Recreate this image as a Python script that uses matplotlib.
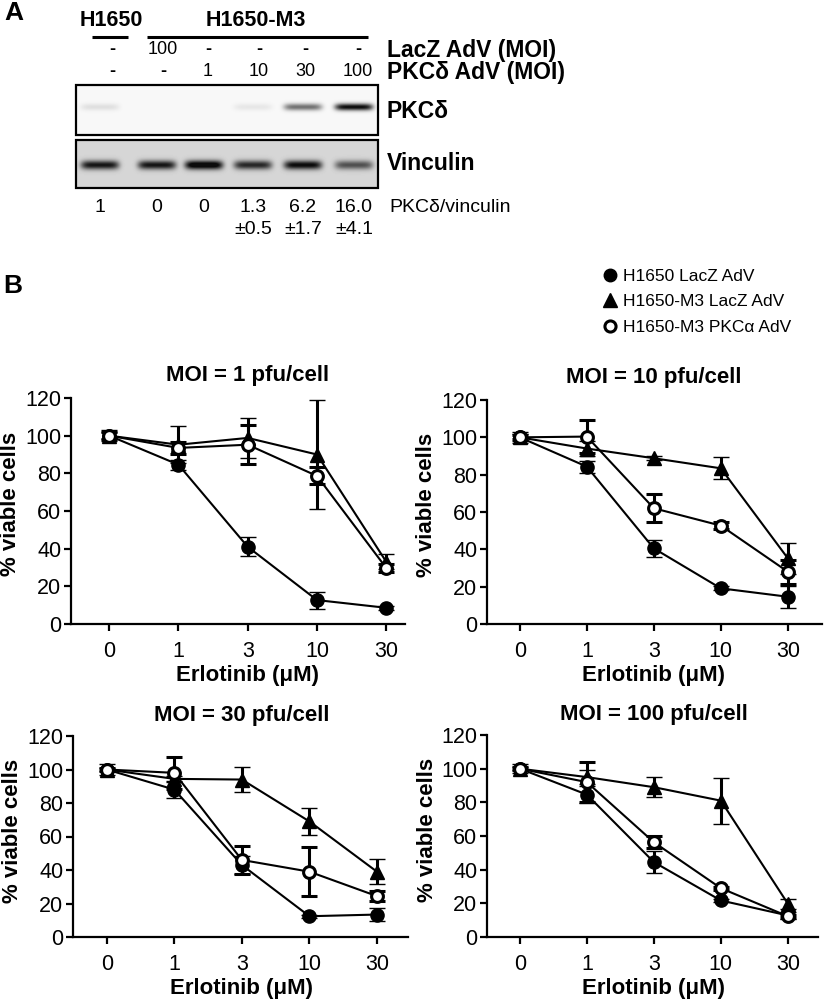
import numpy as np
import matplotlib
matplotlib.use('Agg')
import matplotlib.pyplot as plt
from matplotlib.patches import Rectangle
from matplotlib.lines import Line2D
from matplotlib.transforms import blended_transform_factory

plt.rcParams['font.family'] = ['Liberation Sans', 'DejaVu Sans']

#==============================================================================
# Data
#==============================================================================

# Panel A - western blot
lacz_moi = ['-', '100', '-', '-', '-', '-']
pkc_moi = ['-', '-', '1', '10', '30', '100']
ratio = ['1', '0', '0', '1.3', '6.2', '16.0']
ratio_sd = ['', '', '', '±0.5', '±1.7', '±4.1']
pkc_band = [0.10, 0.0, 0.0, 0.07, 0.55, 0.97]   # band darkness per lane
vinc_band = [0.80, 0.80, 0.98, 0.72, 0.85, 0.55]

# Panel B - viability curves
doses = ['0', '1', '3', '10', '30']
series_names = ['H1650 LacZ AdV', 'H1650-M3 LacZ AdV', 'H1650-M3 PKCα AdV']

moi1_h1650 = [100, 84.6, 41, 12.7, 8.6]
moi1_h1650_err = [2, 2.7, 5, 4.5, 1]
moi1_m3lacz = [100, 95.2, 98.8, 90, 33]
moi1_m3lacz_err = [3, 9.8, 10.6, 29, 4]
moi1_m3pkc = [100, 93.5, 95.2, 78.6, 29.7]
moi1_m3pkc_err = [2, 3, 10.5, 4.5, 2]

moi10_h1650 = [100, 84.3, 40.5, 19.1, 14.6]
moi10_h1650_err = [2, 3.2, 4.5, 1, 5.8]
moi10_m3lacz = [100, 94, 88.8, 83.4, 35.2]
moi10_m3lacz_err = [3, 4, 1, 5.8, 8.4]
moi10_m3pkc = [100, 100.4, 62, 52.7, 28]
moi10_m3pkc_err = [1, 9, 7.4, 2, 6.5]

moi30_h1650 = [100, 88, 43, 12.4, 13.4]
moi30_h1650_err = [1, 5, 5.5, 1, 4]
moi30_m3lacz = [100, 94.4, 94, 69, 39]
moi30_m3lacz_err = [3, 2, 7.5, 8, 7.5]
moi30_m3pkc = [100, 98, 46, 39, 24.4]
moi30_m3pkc_err = [1, 9.6, 8.5, 14.5, 3]

moi100_h1650 = [100, 84.6, 44.5, 21.7, 12.8]
moi100_h1650_err = [1, 5, 6.4, 1, 2]
moi100_m3lacz = [100, 95, 89, 81, 19.8]
moi100_m3lacz_err = [2.5, 4, 6, 13.6, 3]
moi100_m3pkc = [100, 92, 56.3, 29, 12.3]
moi100_m3pkc_err = [1, 12, 3.5, 1, 1]

W, H = 825, 1001
fig = plt.figure(figsize=(W / 100, H / 100), dpi=100)

#==============================================================================
# Panel A (drawn in pixel coordinates)
#==============================================================================
axA = fig.add_axes([0, 0, 1, 1], zorder=0)
axA.set_xlim(0, W)
axA.set_ylim(H, 0)
axA.axis('off')

row_x = [112, 163, 208, 259, 305, 358]   # lane label positions
lane_x = [100, 157, 204, 253, 303, 354]  # band / ratio positions

axA.text(4, 13, 'A', fontsize=19, fontweight='bold', ha='left', va='center')
axA.text(3, 286, 'B', fontsize=19, fontweight='bold', ha='left', va='center')

axA.text(111, 21, 'H1650', fontsize=15.5, fontweight='bold', ha='center', va='center')
axA.text(256, 21, 'H1650-M3', fontsize=15.5, fontweight='bold', ha='center', va='center')
axA.plot([92, 128], [37, 37], color='k', lw=2.2, solid_capstyle='butt')
axA.plot([147, 368], [37, 37], color='k', lw=2.2, solid_capstyle='butt')

for x, s in zip(row_x, lacz_moi):
    axA.text(x, 50, s, fontsize=13, ha='center', va='center',
             fontweight='bold' if s == '-' else 'normal')
for x, s in zip(row_x, pkc_moi):
    axA.text(x, 72, s, fontsize=13, ha='center', va='center',
             fontweight='bold' if s == '-' else 'normal')
axA.text(387, 50, 'LacZ AdV (MOI)', fontsize=16.5, fontweight='bold', ha='left', va='center')
axA.text(387, 72, 'PKCδ AdV (MOI)', fontsize=16.5, fontweight='bold', ha='left', va='center')


def blot(top, bottom, strengths, bg, band_y, band_h):
    xs = np.arange(76, 378) + 0.5
    ys = np.arange(top, bottom) + 0.5
    X, Y = np.meshgrid(xs, ys)
    img = np.full(X.shape, bg)
    for xc, s in zip(lane_x, strengths):
        img += s * np.exp(-((X - xc) / 19.0) ** 6) * np.exp(-((Y - band_y) / band_h) ** 2)
    img = np.clip(img, 0, 1)
    axA.imshow(img, cmap='gray_r', vmin=0, vmax=1.05, extent=(76, 378, bottom, top),
               aspect='auto', interpolation='bilinear')
    axA.add_patch(Rectangle((76, top), 302, bottom - top, fill=False, ec='k', lw=1.6))


blot(85, 135, pkc_band, 0.03, 107, 3.5)
blot(140, 188, vinc_band, 0.17, 165, 4.5)
axA.set_xlim(0, W)
axA.set_ylim(H, 0)

axA.text(387, 111, 'PKCδ', fontsize=16.5, fontweight='bold', ha='left', va='center')
axA.text(387, 163, 'Vinculin', fontsize=16.5, fontweight='bold', ha='left', va='center')

for x, s in zip(lane_x, ratio):
    axA.text(x, 208, s, fontsize=14, ha='center', va='center')
for x, s in zip(lane_x, ratio_sd):
    axA.text(x, 230, s, fontsize=14, ha='center', va='center')
axA.text(389, 208, 'PKCδ/vinculin', fontsize=14, ha='left', va='center')

#==============================================================================
# Panel B
#==============================================================================


def px_axes(left, top, right, bottom):
    return fig.add_axes([left / W, 1 - bottom / H, (right - left) / W, (bottom - top) / H], zorder=2)


marker_styles = [
    dict(marker='o', ms=9.5, mfc='k', mec='k', mew=1),
    dict(marker='^', ms=10, mfc='k', mec='k', mew=1),
    dict(marker='o', ms=8.5, mfc='white', mec='k', mew=2.2),
]


def plot_panel(ax, title, data, xlim, height_px):
    x = np.arange(len(doses))
    for (y, err), st in zip(data, marker_styles):
        ax.errorbar(x, y, yerr=err, color='k', lw=1.5, elinewidth=2.2, capsize=6,
                    capthick=2.2, clip_on=False, zorder=3, **st)
    ax.set_xlim(*xlim)
    ax.set_ylim(0, 120)
    ax.set_yticks(range(0, 121, 20))
    ax.set_xticks(x)
    ax.set_xticklabels(doses)
    for side in ['top', 'right']:
        ax.spines[side].set_visible(False)
    for side in ['left', 'bottom']:
        ax.spines[side].set_linewidth(1.6)
    ax.tick_params(axis='both', labelsize=15.5, length=5, width=1.6)
    ax.tick_params(axis='y', pad=2)
    ax.tick_params(axis='x', pad=7)
    tr = blended_transform_factory(ax.transData, ax.transAxes)
    ax.text(2, 1.10, title, transform=tr, fontsize=16, fontweight='bold',
            ha='center', va='center')
    ax.set_xlabel('Erlotinib (μM)', fontsize=16, fontweight='bold')
    ax.xaxis.set_label_coords(2, -41 / height_px, transform=tr)
    ax.set_ylabel('% viable cells', fontsize=16, fontweight='bold', va='center')
    ax.yaxis.set_label_coords(-0.18, 0.53)


ax1 = px_axes(71, 398, 405, 624)
plot_panel(ax1, 'MOI = 1 pfu/cell',
           [(moi1_h1650, moi1_h1650_err), (moi1_m3lacz, moi1_m3lacz_err), (moi1_m3pkc, moi1_m3pkc_err)],
           (-0.55, 4.27), 226)
ax2 = px_axes(487, 400, 822, 624)
plot_panel(ax2, 'MOI = 10 pfu/cell',
           [(moi10_h1650, moi10_h1650_err), (moi10_m3lacz, moi10_m3lacz_err), (moi10_m3pkc, moi10_m3pkc_err)],
           (-0.49, 4.51), 224)
ax3 = px_axes(73, 736, 408, 937)
plot_panel(ax3, 'MOI = 30 pfu/cell',
           [(moi30_h1650, moi30_h1650_err), (moi30_m3lacz, moi30_m3lacz_err), (moi30_m3pkc, moi30_m3pkc_err)],
           (-0.50, 4.46), 201)
ax4 = px_axes(487, 735, 818, 937)
plot_panel(ax4, 'MOI = 100 pfu/cell',
           [(moi100_h1650, moi100_h1650_err), (moi100_m3lacz, moi100_m3lacz_err), (moi100_m3pkc, moi100_m3pkc_err)],
           (-0.49, 4.45), 202)

handles = [Line2D([], [], ls='none', color='k', **dict(st, ms=st['ms'] - 0.5)) for st in marker_styles]
fig.legend(handles, series_names, loc='upper left', bbox_to_anchor=(603 / W, 1 - 269 / H),
           frameon=False, fontsize=12.5, handlelength=0.8, handletextpad=0.35,
           labelspacing=0.58, borderpad=0, borderaxespad=0)

fig.savefig('out.png', dpi=100)
